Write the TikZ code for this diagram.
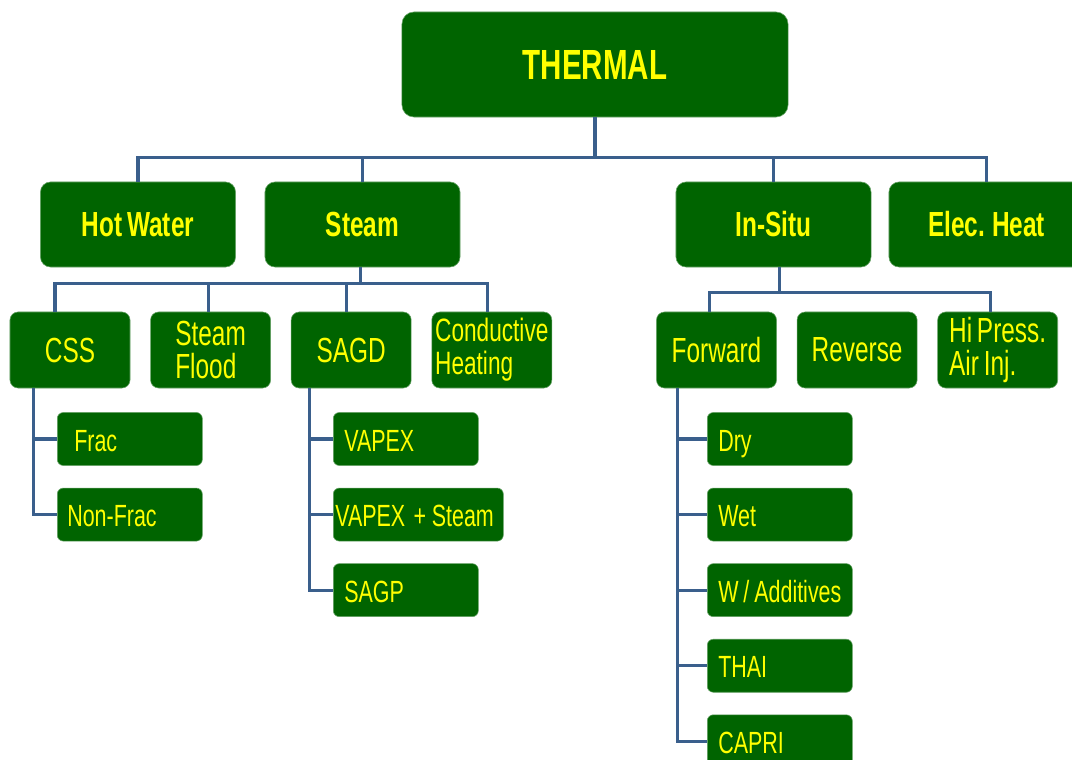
\documentclass[tikz,border=0pt]{standalone}
\usepackage{fontspec}
\setmainfont[FakeStretch=0.7,WordSpace=0.7]{Liberation Sans}
\usetikzlibrary{positioning,calc}
\definecolor{boxgreen}{RGB}{0,100,0}
\definecolor{txtyellow}{RGB}{255,255,0}
\definecolor{linkblue}{RGB}{58,95,140}

\begin{document}
\begin{tikzpicture}[x=0.025cm, y=-0.025cm,
  box/.style={fill=boxgreen, draw=boxgreen!60!white, line width=0.4pt, text=txtyellow, inner sep=0pt},
  root/.style={box, rounded corners=0.3cm, minimum width=9.65cm, minimum height=2.625cm, font=\fontsize{30}{30}\selectfont\bfseries},
  cat/.style={box, rounded corners=0.25cm, minimum width=4.875cm, minimum height=2.125cm, font=\fontsize{24.8}{24}\selectfont\bfseries},
  sub/.style={box, rounded corners=0.2cm, minimum width=3cm, minimum height=1.9cm, align=left, font=\fontsize{24.8}{23.5}\selectfont},
  leaf/.style={box, rounded corners=0.15cm, minimum height=1.325cm, text height=0.7cm, text depth=0.1cm, text width=3.075cm, inner xsep=0.275cm, align=left, font=\fontsize{21.8}{22}\selectfont},
  link/.style={draw=linkblue, line width=2.2pt}]
  \useasboundingbox (0,0) rectangle (1072,760);

  % top
  \node[root] (thermal) at (595,64.5) {THERMAL};
  \node[cat] (hotwater) at (138,224.5) {Hot Water};
  \node[cat] (steam) at (362.5,224.5) {Steam};
  \node[cat] (insitu) at (773.5,224.5) {In-Situ};
  \node[cat] (elecheat) at (986.5,224.5) {Elec. Heat};

  % steam methods
  \node[sub] (css) at (70,350) {CSS};
  \node[sub, right=0.5cm of css] (steamflood) {Steam\\Flood};
  \node[sub, right=0.5cm of steamflood] (sagd) {SAGD};
  \node[sub, right=0.5cm of sagd, font=\fontsize{23}{23.5}\selectfont] (conductive) {Conductive\\Heating};

  % in-situ methods
  \node[sub] (forward) at (716.5,350) {Forward};
  \node[sub, right=0.5cm of forward] (reverse) {Reverse};
  \node[sub, right=0.5cm of reverse] (hipress) {Hi Press.\\Air Inj.};

  % leaves
  \node[leaf, anchor=west, inner xsep=0.425cm, text width=2.775cm] (frac) at (57,439) {Frac};
  \node[leaf, below=0.55cm of frac, inner xsep=0.25cm, text width=3.125cm] (nonfrac) {Non-Frac};

  \node[leaf, anchor=west] (vapex) at (333,439) {VAPEX};
  \node[leaf, below=0.55cm of vapex.south west, anchor=north west, inner xsep=0.05cm, text width=4.15cm] (vapexsteam) {\mbox{VAPEX\hspace{6pt}+\hspace{4pt}Steam}};
  \node[leaf, below=0.55cm of vapexsteam.south west, anchor=north west] (sagp) {SAGP};

  \node[leaf, anchor=west] (dry) at (707,439) {Dry};
  \node[leaf, below=0.55cm of dry] (wet) {Wet};
  \node[leaf, below=0.55cm of wet] (additives) {\mbox{W\hspace{3.5pt}/\hspace{3.5pt}Additives}};
  \node[leaf, below=0.55cm of additives] (thai) {THAI};
  \node[leaf, below=0.55cm of thai] (capri) {CAPRI};

  % connectors
  \foreach \n in {hotwater,steam,insitu,elecheat}
    \draw[link] (thermal.south) -- ++(0,40) -| (\n.north);
  \foreach \n/\dx in {css/-0.375,steamflood/-0.05,sagd/-0.125,conductive/-0.1}
    \draw[link] ([xshift=-0.06cm]steam.south) -- ++(0,16) -| ([xshift=\dx cm]\n.north);
  \foreach \n in {forward,hipress}
    \draw[link] ([xshift=0.15cm]insitu.south) -- ++(0,25) -| ([xshift=-0.18cm]\n.north);
  \foreach \n in {frac,nonfrac}
    \draw[link] ([xshift=0.6cm]css.south west) |- (\n.west);
  \foreach \n in {vapex,vapexsteam,sagp}
    \draw[link] ([xshift=0.475cm]sagd.south west) |- (\n.west);
  \foreach \n in {dry,wet,additives,thai,capri}
    \draw[link] ([xshift=0.525cm]forward.south west) |- (\n.west);
\end{tikzpicture}
\end{document}
